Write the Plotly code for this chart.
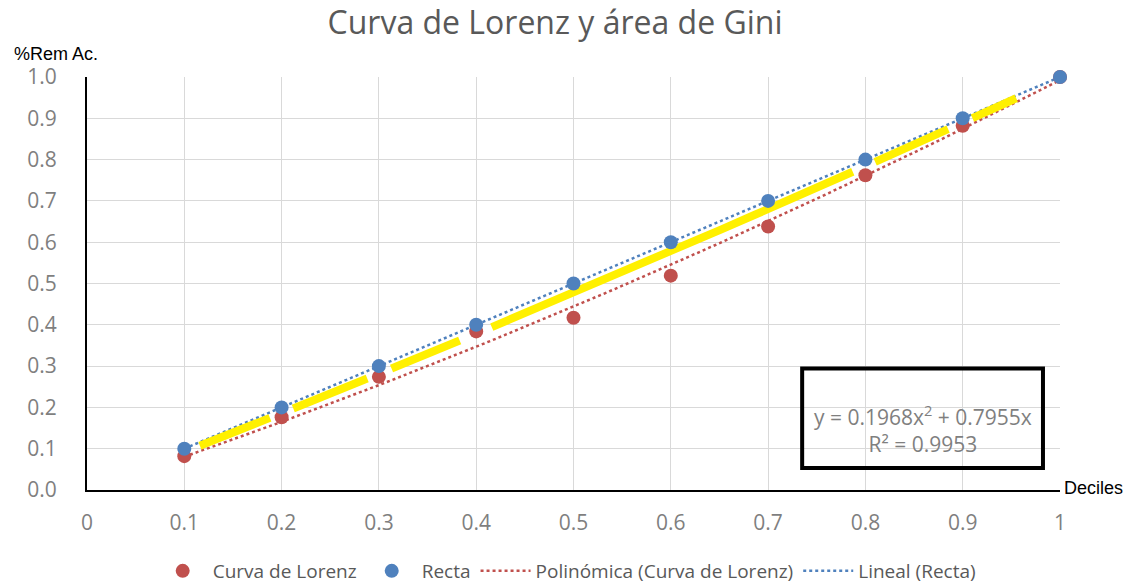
import numpy as np
import plotly.graph_objects as go

# ---- data ----
deciles = [0.1, 0.2, 0.3, 0.4, 0.5, 0.6, 0.7, 0.8, 0.9, 1.0]
lorenz = [0.082, 0.176, 0.274, 0.384, 0.417, 0.519, 0.638, 0.762, 0.882, 1.0]
recta = [0.1, 0.2, 0.3, 0.4, 0.5, 0.6, 0.7, 0.8, 0.9, 1.0]

x_tick_vals = [0, 0.1, 0.2, 0.3, 0.4, 0.5, 0.6, 0.7, 0.8, 0.9, 1.0]
x_tick_text = ["0", "0.1", "0.2", "0.3", "0.4", "0.5", "0.6", "0.7", "0.8", "0.9", "1"]
y_tick_vals = [0, 0.1, 0.2, 0.3, 0.4, 0.5, 0.6, 0.7, 0.8, 0.9, 1.0]
y_tick_text = ["0.0", "0.1", "0.2", "0.3", "0.4", "0.5", "0.6", "0.7", "0.8", "0.9", "1.0"]

# hand-drawn yellow highlight (Gini area) segments, in decile units
yellow_start = [0.116, 0.212, 0.313, 0.416, 0.810, 0.910]
yellow_end = [0.188, 0.288, 0.383, 0.787, 0.885, 0.955]

equation_text = "y = 0.1968x<sup>2</sup> + 0.7955x<br>R² = 0.9953"

RED = "#C0504D"
BLUE = "#4F81BD"
GRAY = "#7F7F7F"

# ---- trendlines fitted from the data ----
xd = np.array(deciles)
A = np.column_stack([xd ** 2, xd])
poly_coef, *_ = np.linalg.lstsq(A, np.array(lorenz), rcond=None)
lin_coef = np.polyfit(xd, np.array(recta), 1)

xt = np.linspace(min(deciles), max(deciles), 60)
poly_y = poly_coef[0] * xt ** 2 + poly_coef[1] * xt
lin_y = lin_coef[0] * xt + lin_coef[1]

yx, yy = [], []
for s, e in zip(yellow_start, yellow_end):
    xs = np.linspace(s, e, 12)
    rp = poly_coef[0] * xs ** 2 + poly_coef[1] * xs
    rl = lin_coef[0] * xs + lin_coef[1]
    ys = rp + 0.6 * (rl - rp)
    yx += list(xs) + [None]
    yy += list(ys) + [None]

fig = go.Figure()
fig.add_trace(go.Scatter(x=xt, y=poly_y, mode="lines", name="Polinómica (Curva de Lorenz)",
                         line=dict(color=RED, width=2.5, dash="dot"), legendrank=3))
fig.add_trace(go.Scatter(x=xt, y=lin_y, mode="lines", name="Lineal (Recta)",
                         line=dict(color=BLUE, width=2.5, dash="dot"), legendrank=4))
fig.add_trace(go.Scatter(x=yx, y=yy, mode="lines", showlegend=False, hoverinfo="skip",
                         line=dict(color="#FFF000", width=8, shape="linear")))
fig.add_trace(go.Scatter(x=deciles, y=lorenz, mode="markers", name="Curva de Lorenz",
                         marker=dict(color=RED, size=14), cliponaxis=False, legendrank=1))
fig.add_trace(go.Scatter(x=deciles, y=recta, mode="markers", name="Recta",
                         marker=dict(color=BLUE, size=14), cliponaxis=False, legendrank=2))

fig.add_shape(type="rect", xref="x", yref="y", x0=0.735, x1=0.9825, y0=0.053, y1=0.294,
              line=dict(color="black", width=4), fillcolor="rgba(255,255,255,0)")
fig.add_annotation(x=0.859, y=0.147, xref="x", yref="y", text=equation_text, showarrow=False,
                   font=dict(family="Open Sans", size=21, color=GRAY), align="center")

fig.add_annotation(x=-0.077, y=1.056, xref="paper", yref="paper", text="%Rem Ac.",
                   showarrow=False, xanchor="left", yanchor="middle",
                   font=dict(family="Liberation Sans", size=18, color="black"))
fig.add_annotation(x=1.002, y=0.005, xref="paper", yref="paper", text="Deciles",
                   showarrow=False, xanchor="left", yanchor="middle",
                   font=dict(family="Liberation Sans", size=18, color="black"))

fig.update_layout(
    width=1131, height=586,
    margin=dict(l=87, r=71, t=77, b=96),
    paper_bgcolor="white", plot_bgcolor="white",
    title=dict(text="Curva de Lorenz y área de Gini", x=555 / 1131, xanchor="center",
               y=1 - 23 / 586, yanchor="middle", yref="container",
               font=dict(family="Open Sans", size=32, color="#595959")),
    xaxis=dict(range=[0, 1], tickvals=x_tick_vals, ticktext=x_tick_text,
               showgrid=True, gridcolor="#D9D9D9", gridwidth=1, zeroline=False,
               showline=True, linecolor="black", linewidth=2,
               ticks="", ticklabelstandoff=13,
               tickfont=dict(family="Open Sans", size=21, color=GRAY)),
    yaxis=dict(range=[0, 1], tickvals=y_tick_vals, ticktext=y_tick_text,
               showgrid=True, gridcolor="#D9D9D9", gridwidth=1, zeroline=False,
               showline=True, linecolor="black", linewidth=2,
               ticks="", ticklabelstandoff=24,
               tickfont=dict(family="Open Sans", size=21, color=GRAY)),
    legend=dict(orientation="h", x=0.493, xanchor="center", xref="paper",
                y=(586 - 571) / 586, yanchor="middle", yref="container",
                font=dict(family="Open Sans", size=19, color="#595959"),
                itemwidth=50, traceorder="normal"),
    showlegend=True,
)

fig.write_html("out.html", config={"displayModeBar": False},
               post_script="document.body.style.margin='0';")
